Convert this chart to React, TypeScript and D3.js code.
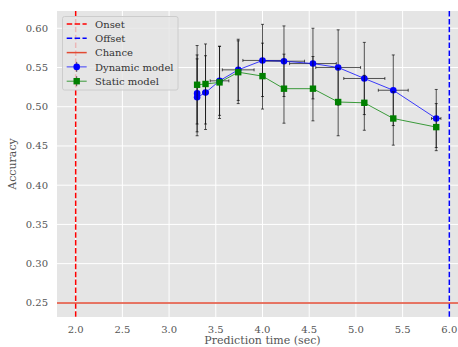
import React from 'react';
import * as d3 from 'd3';

// Dynamic model (with time uncertainty)
const dynTime = [3.30, 3.30, 3.39, 3.54, 3.74, 4.00, 4.23, 4.54, 4.81, 5.09, 5.40, 5.86];
const dynAcc = [0.517, 0.512, 0.518, 0.533, 0.547, 0.559, 0.558, 0.555, 0.550, 0.536, 0.521, 0.485];
const dynYErr = [0.049, 0.049, 0.047, 0.044, 0.039, 0.046, 0.045, 0.045, 0.048, 0.046, 0.045, 0.037];
const dynXErr = [0.01, 0.01, 0.03, 0.10, 0.17, 0.21, 0.22, 0.25, 0.24, 0.22, 0.16, 0.05];

// Static model
const statTime = [3.30, 3.39, 3.54, 3.74, 4.00, 4.23, 4.54, 4.81, 5.09, 5.40, 5.86];
const statAcc = [0.528, 0.529, 0.531, 0.544, 0.539, 0.523, 0.523, 0.506, 0.505, 0.485, 0.474];
const statYErr = [0.050, 0.051, 0.046, 0.040, 0.042, 0.044, 0.041, 0.043, 0.035, 0.034, 0.030];

const onset = 2.0;
const offset = 6.0;
const chance = 0.25;

const xTicks = [2.0, 2.5, 3.0, 3.5, 4.0, 4.5, 5.0, 5.5, 6.0];
const yTicks = [0.25, 0.30, 0.35, 0.40, 0.45, 0.50, 0.55, 0.60];

const legendItems = ['Onset', 'Offset', 'Chance', 'Dynamic model', 'Static model'];

const W = 458;
const H = 347;
const margin = { top: 11, right: -10, bottom: 30, left: 57 };
const font = '"DejaVu Serif", serif';

export default function App() {
  const x = d3.scaleLinear().domain([1.8, 6.2]).range([margin.left, W - margin.right]);
  const y = d3.scaleLinear().domain([0.232, 0.622]).range([H - margin.bottom, margin.top]);

  const line = d3.line<[number, number]>()
    .x(d => x(d[0]))
    .y(d => y(d[1]));

  const dynPts: [number, number][] = dynTime.map((t, i) => [t, dynAcc[i]]);
  const statPts: [number, number][] = statTime.map((t, i) => [t, statAcc[i]]);
  const cap = 1.5;
  const barColor = 'rgba(0,0,0,0.65)';

  const x0 = x.range()[0], x1 = x.range()[1];
  const y0 = y.range()[1], y1 = y.range()[0];

  return (
    <svg width={W} height={H} style={{ position: 'absolute', left: 0, top: 0 }} fontFamily={font}>
      <defs>
        <clipPath id="plot">
          <rect x={x0} y={y0} width={x1 - x0} height={y1 - y0} />
        </clipPath>
      </defs>
      <rect x={0} y={0} width={W} height={H} fill="#fff" />
      <rect x={x0} y={y0} width={x1 - x0} height={y1 - y0} fill="#E5E5E5" />
      {xTicks.map(t => (
        <line key={'gx' + t} x1={x(t)} x2={x(t)} y1={y0} y2={y1} stroke="#fff" strokeWidth={1} />
      ))}
      {yTicks.map(t => (
        <line key={'gy' + t} x1={x0} x2={x1} y1={y(t)} y2={y(t)} stroke="#fff" strokeWidth={1} />
      ))}
      <g clipPath="url(#plot)">
        <line x1={x(onset)} x2={x(onset)} y1={y0} y2={y1} stroke="#ff0000" strokeWidth={1.5} strokeDasharray="5.5,2.4" />
        <line x1={x(offset)} x2={x(offset)} y1={y0} y2={y1} stroke="#0000ff" strokeWidth={1.5} strokeDasharray="5.5,2.4" />
        <line x1={x0} x2={x1} y1={y(chance)} y2={y(chance)} stroke="#E24A33" strokeWidth={1.5} />

        {/* dynamic error bars */}
        {dynPts.map((d, i) => (
          <g key={'de' + i} stroke={barColor} strokeWidth={1}>
            <line x1={x(d[0])} x2={x(d[0])} y1={y(d[1] - dynYErr[i])} y2={y(d[1] + dynYErr[i])} />
            <line x1={x(d[0]) - cap} x2={x(d[0]) + cap} y1={y(d[1] - dynYErr[i])} y2={y(d[1] - dynYErr[i])} />
            <line x1={x(d[0]) - cap} x2={x(d[0]) + cap} y1={y(d[1] + dynYErr[i])} y2={y(d[1] + dynYErr[i])} />
            <line x1={x(d[0] - dynXErr[i])} x2={x(d[0] + dynXErr[i])} y1={y(d[1])} y2={y(d[1])} />
            <line x1={x(d[0] - dynXErr[i])} x2={x(d[0] - dynXErr[i])} y1={y(d[1]) - cap} y2={y(d[1]) + cap} />
            <line x1={x(d[0] + dynXErr[i])} x2={x(d[0] + dynXErr[i])} y1={y(d[1]) - cap} y2={y(d[1]) + cap} />
          </g>
        ))}
        <path d={line(dynPts) || ''} fill="none" stroke="#0000ff" strokeOpacity={0.75} strokeWidth={1} />
        {dynPts.map((d, i) => (
          <circle key={'dc' + i} cx={x(d[0])} cy={y(d[1])} r={3.3} fill="#0000ff" />
        ))}

        {/* static error bars */}
        {statPts.map((d, i) => (
          <g key={'se' + i} stroke={barColor} strokeWidth={1}>
            <line x1={x(d[0])} x2={x(d[0])} y1={y(d[1] - statYErr[i])} y2={y(d[1] + statYErr[i])} />
            <line x1={x(d[0]) - cap} x2={x(d[0]) + cap} y1={y(d[1] - statYErr[i])} y2={y(d[1] - statYErr[i])} />
            <line x1={x(d[0]) - cap} x2={x(d[0]) + cap} y1={y(d[1] + statYErr[i])} y2={y(d[1] + statYErr[i])} />
          </g>
        ))}
        <path d={line(statPts) || ''} fill="none" stroke="#008000" strokeOpacity={0.75} strokeWidth={1} />
        {statPts.map((d, i) => (
          <rect key={'sr' + i} x={x(d[0]) - 3.2} y={y(d[1]) - 3.2} width={6.4} height={6.4} fill="#008000" />
        ))}
      </g>

      {/* ticks */}
      {xTicks.map(t => (
        <text key={'tx' + t} x={x(t)} y={y1 + 16} fontSize={10} fill="#555" textAnchor="middle">{t.toFixed(1)}</text>
      ))}
      {yTicks.map(t => (
        <text key={'ty' + t} x={x0 - 9} y={y(t) + 3.5} fontSize={10} fill="#555" textAnchor="end">{t.toFixed(2)}</text>
      ))}
      <text x={(x0 + x1) / 2} y={y1 + 27} fontSize={11} fill="#555" textAnchor="middle">Prediction time (sec)</text>
      <text transform={`translate(${16},${(y0 + y1) / 2}) rotate(-90)`} fontSize={11} fill="#555" textAnchor="middle">Accuracy</text>

      {/* legend */}
      <g>
        <rect x={62.5} y={16.5} width={115.5} height={73.5} rx={2} fill="#E5E5E5" fillOpacity={0.8} stroke="#CCCCCC" strokeWidth={1} />
        {legendItems.map((label, i) => {
          const ly = 24 + i * 14.3;
          const hx0 = 66.7, hx1 = 86.7, hc = (hx0 + hx1) / 2;
          let handle: React.ReactNode = null;
          if (i === 0) handle = <line x1={hx0} x2={hx1} y1={ly} y2={ly} stroke="#ff0000" strokeWidth={1.5} strokeDasharray="5.5,2.4" />;
          else if (i === 1) handle = <line x1={hx0} x2={hx1} y1={ly} y2={ly} stroke="#0000ff" strokeWidth={1.5} strokeDasharray="5.5,2.4" />;
          else if (i === 2) handle = <line x1={hx0} x2={hx1} y1={ly} y2={ly} stroke="#E24A33" strokeWidth={1.5} />;
          else if (i === 3) handle = (
            <g>
              <line x1={hc} x2={hc} y1={ly - 5} y2={ly + 5} stroke={barColor} strokeWidth={1} />
              <line x1={hx0} x2={hx1} y1={ly} y2={ly} stroke="#0000ff" strokeOpacity={0.75} strokeWidth={1} />
              <circle cx={hc} cy={ly} r={3.3} fill="#0000ff" />
            </g>
          );
          else handle = (
            <g>
              <line x1={hc} x2={hc} y1={ly - 5} y2={ly + 5} stroke={barColor} strokeWidth={1} />
              <line x1={hx0} x2={hx1} y1={ly} y2={ly} stroke="#008000" strokeOpacity={0.75} strokeWidth={1} />
              <rect x={hc - 3.2} y={ly - 3.2} width={6.4} height={6.4} fill="#008000" />
            </g>
          );
          return (
            <g key={label}>
              {handle}
              <text x={95} y={ly + 3.6} fontSize={10} fill="#333">{label}</text>
            </g>
          );
        })}
      </g>
    </svg>
  );
}
